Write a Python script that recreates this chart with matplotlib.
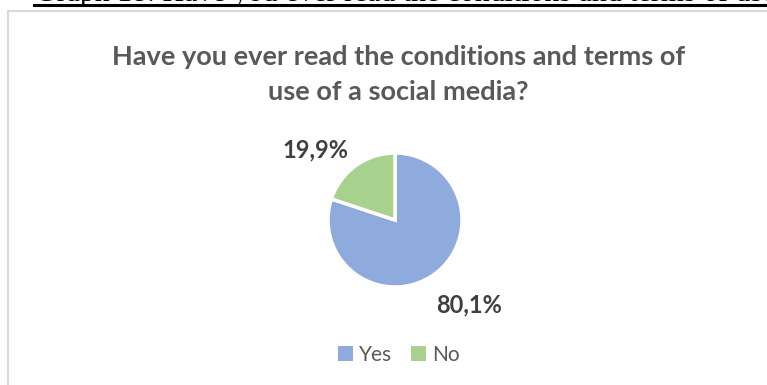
import matplotlib.pyplot as plt
from matplotlib.patches import Rectangle, Patch

# survey answers
answers = ['Yes', 'No']
shares = [80.1, 19.9]
colors = ['#8FAADC', '#A9D18E']

caption = 'Graph 18: Have you ever read the conditions and terms of use'
title_lines = ['Have you ever read the conditions and terms of',
               'use of a social media?']

W, H = 767, 385
fig = plt.figure(figsize=(W / 100, H / 100), dpi=100)
plt.rcParams['font.family'] = ['Lato', 'DejaVu Sans']


def fx(px):
    return px / W


def fy(py):
    return 1 - py / H


# caption from the document page, cut at the top
fig.text(fx(35), fy(1), caption, family='Liberation Serif', fontsize=21.5,
         ha='left', va='baseline', color='black')
fig.add_artist(plt.Line2D([fx(34), 1.0], [fy(4.5), fy(4.5)],
                          color='black', lw=2.2))

# chart frame
fig.add_artist(Rectangle((fx(8), fy(500)), 1.0, fy(11) - fy(500),
                         transform=fig.transFigure, fill=False,
                         edgecolor='#D9D9D9', lw=1.5))

# title
fig.text(fx(398), fy(65), title_lines[0], ha='center', va='baseline',
         fontsize=19.5, fontweight='bold', color='#595959')
fig.text(fx(398), fy(100), title_lines[1], ha='center', va='baseline',
         fontsize=19.5, fontweight='bold', color='#595959')

# pie
cx, cy, r = 395, 220, 67
ax = fig.add_axes([fx(cx - r), fy(cy + r), 2 * r / W, 2 * r / H])
wedges, _, pct = ax.pie(shares, colors=colors, startangle=90,
                        counterclock=False,
                        autopct=lambda p: f'{p:.1f}%'.replace('.', ','),
                        pctdistance=1.6,
                        wedgeprops=dict(edgecolor='white', linewidth=2.5),
                        textprops=dict(fontsize=17, fontweight='bold',
                                       color='#404040'))
ax.set_xlim(-1, 1)
ax.set_ylim(-1, 1)
ax.set_aspect('auto')
# label spots outside the slices
pct[0].set_position((74 / r, -85 / r))
pct[1].set_position((-80 / r, 70 / r))
for t in pct:
    t.set_ha('center')
    t.set_va('center')
    t.set_clip_on(False)

handles = [Patch(facecolor=c, edgecolor='none') for c in colors]
fig.legend(handles, answers, loc='center', bbox_to_anchor=(fx(399), fy(355)),
           ncol=2, frameon=False, fontsize=15, labelcolor='#595959',
           handlelength=0.7, handleheight=0.7, handletextpad=0.3,
           columnspacing=0.9)

fig.savefig('out.png', dpi=100)
